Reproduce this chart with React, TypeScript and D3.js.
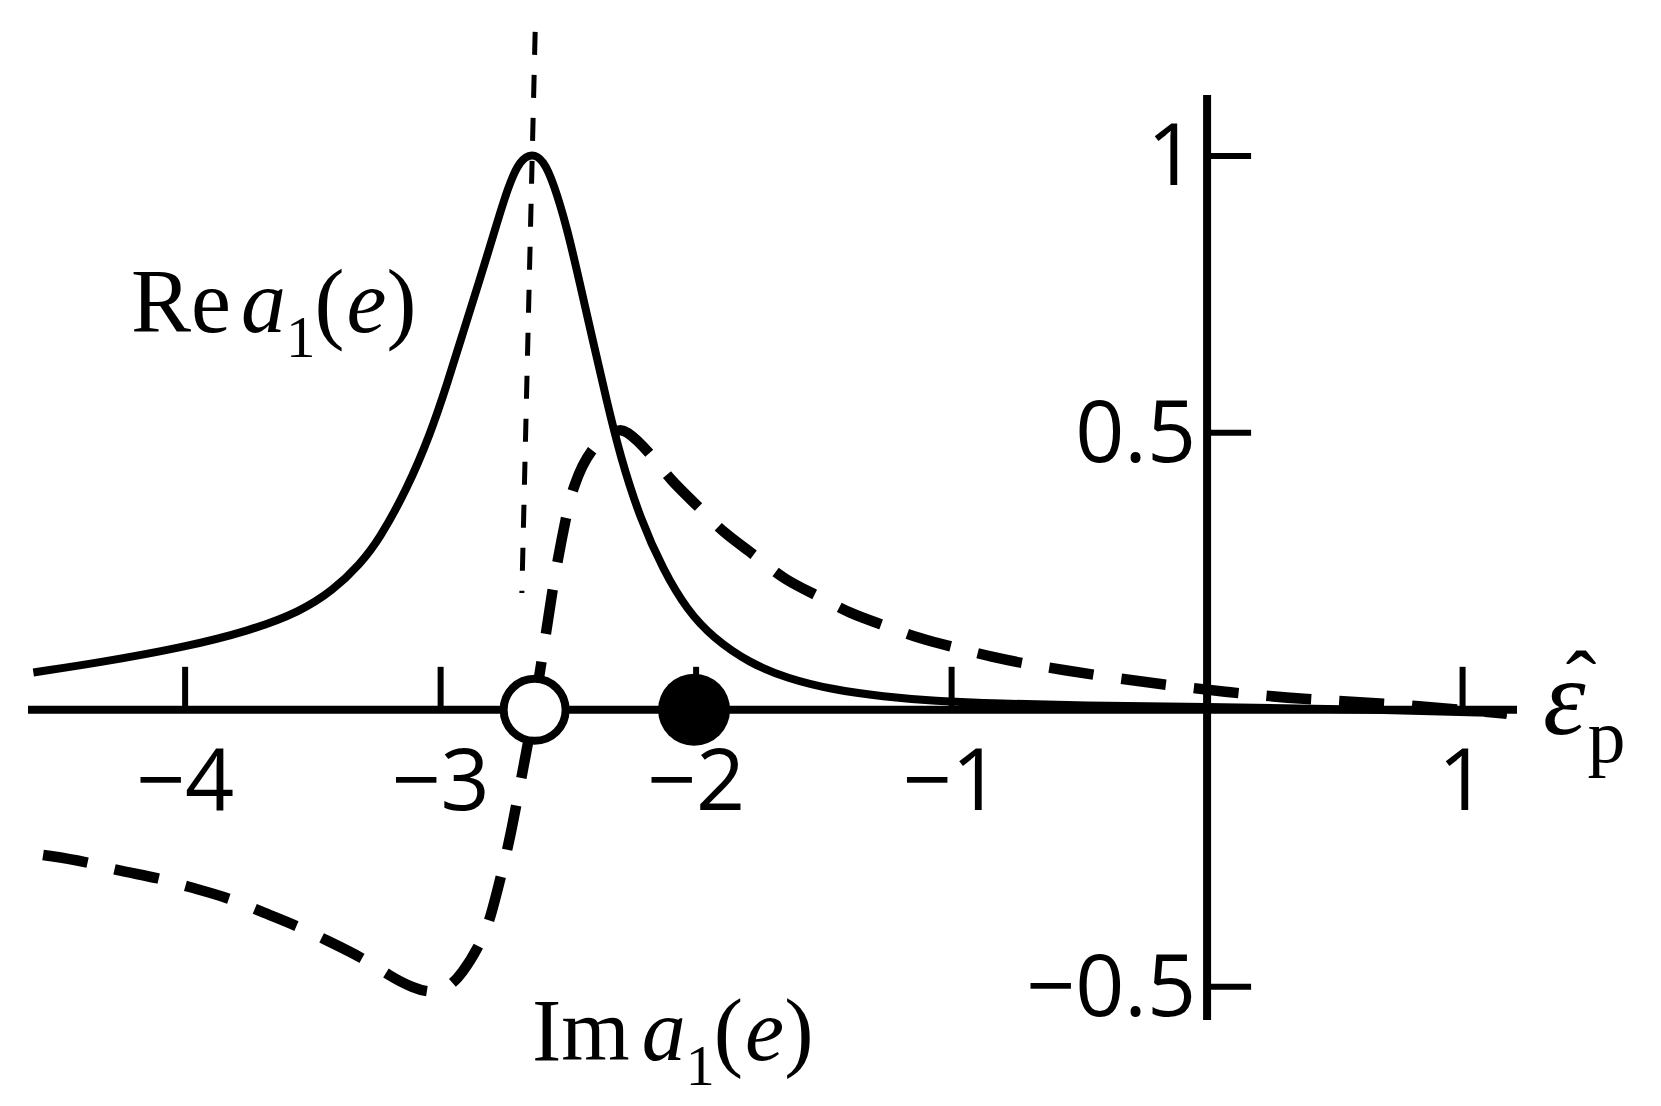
import React from 'react';
import * as d3 from 'd3';

const W = 1661;
const H = 1106;

// Re a1(e): solid curve
const reX = [-4.594, -4.333, -4.007, -3.746, -3.55, -3.42, -3.315, -3.24, -3.132, -3.041, -2.976, -2.911, -2.845, -2.793, -2.734, -2.689, -2.644, -2.598, -2.558, -2.506, -2.454, -2.402, -2.35, -2.297, -2.219, -2.128, -2.036, -1.932, -1.789, -1.645, -1.463, -1.267, -1.071, -0.81, -0.5, 0, 0.5, 1.173];
const reY = [0.0675, 0.0855, 0.1127, 0.1429, 0.177, 0.216, 0.263, 0.308, 0.398, 0.497, 0.586, 0.683, 0.779, 0.858, 0.948, 0.992, 1.005, 0.993, 0.951, 0.872, 0.768, 0.662, 0.558, 0.458, 0.345, 0.252, 0.1805, 0.129, 0.084, 0.057, 0.036, 0.024, 0.016, 0.011, 0.008, 0.005, 0.002, -0.006];

// Im a1(e): dashed curve
const imX = [-4.556, -4.386, -4.279, -4.098, -3.993, -3.824, -3.706, -3.557, -3.452, -3.303, -3.198, -3.11, -3.03, -2.975, -2.921, -2.83, -2.795, -2.756, -2.728, -2.697, -2.673, -2.658, -2.635, -2.587, -2.564, -2.542, -2.51, -2.483, -2.415, -2.317, -2.278, -2.18, -2.102, -1.984, -1.893, -1.762, -1.658, -1.515, -1.404, -1.247, -1.13, -0.973, -0.849, -0.687, -0.562, -0.399, -0.197, 0.093, 0.377, 0.667, 1.173];
const imY = [-0.262, -0.274, -0.289, -0.304, -0.319, -0.34, -0.364, -0.391, -0.415, -0.448, -0.481, -0.502, -0.512, -0.502, -0.481, -0.412, -0.358, -0.286, -0.23, -0.155, -0.096, -0.06, 0.0, 0.139, 0.211, 0.27, 0.346, 0.402, 0.473, 0.505, 0.508, 0.464, 0.415, 0.364, 0.319, 0.277, 0.235, 0.2045, 0.1745, 0.15, 0.129, 0.111, 0.096, 0.081, 0.072, 0.06, 0.047, 0.031, 0.019, 0.013, -0.007];

// thin dashed guide line
const guideX = [-2.63, -2.682];
const guideY = [1.224, 0.211];

const xTicks = [-4, -3, -2, -1, 1];
const xTickLabels = ['\u22124', '\u22123', '\u22122', '\u22121', '1'];
const yTicks = [1, 0.5, -0.5];
const yTickLabels = ['1', '0.5', '\u22120.5'];

const openPointX = [-2.632];
const filledPointX = [-2.008];

const xDomain = [-4.615, 1.213];
const yDomain = [-0.56, 1.11];

export default function App() {
  const x = d3.scaleLinear().domain(xDomain).range([28, 1517]);
  const y = d3.scaleLinear().domain(yDomain).range([1020, 95]);

  const line = d3
    .line<[number, number]>()
    .x((d) => x(d[0]))
    .y((d) => y(d[1]))
    .curve(d3.curveBasis);
  const straight = d3
    .line<[number, number]>()
    .x((d) => x(d[0]))
    .y((d) => y(d[1]));

  const reData = reX.map((v, i) => [v, reY[i]] as [number, number]);
  const imData = imX.map((v, i) => [v, imY[i]] as [number, number]);
  const guideData = guideX.map((v, i) => [v, guideY[i]] as [number, number]);

  const x0 = x(0);
  const y0 = y(0);
  const tickFont = "'Open Sans', 'Noto Sans', sans-serif";
  const serif = "'Liberation Serif', 'Times New Roman', serif";

  return (
    <svg
      width={W}
      height={H}
      viewBox={`0 0 ${W} ${H}`}
      style={{ position: 'absolute', left: 0, top: 0, background: '#fff' }}
    >
      <rect x={0} y={0} width={W} height={H} fill="#fff" />
      {/* axes */}
      <line x1={x(xDomain[0])} x2={x(xDomain[1])} y1={y0} y2={y0} stroke="#000" strokeWidth={8} />
      <line x1={x0} x2={x0} y1={y(yDomain[1])} y2={y(yDomain[0])} stroke="#000" strokeWidth={8} />
      {xTicks.map((t) => (
        <line key={'xt' + t} x1={x(t)} x2={x(t)} y1={y0} y2={y0 - 43} stroke="#000" strokeWidth={6} />
      ))}
      {yTicks.map((t) => (
        <line key={'yt' + t} x1={x0} x2={x0 + 44} y1={y(t)} y2={y(t)} stroke="#000" strokeWidth={6} />
      ))}
      {xTicks.map((t, i) => (
        <text key={'xl' + t} x={x(t)} y={y0 + 100} textAnchor="middle" fontFamily={tickFont} fontSize={86} fill="#000">
          {xTickLabels[i]}
        </text>
      ))}
      {yTicks.map((t, i) => (
        <text key={'yl' + t} x={x0 - 11} y={y(t) + 29} textAnchor="end" fontFamily={tickFont} fontSize={86} fill="#000">
          {yTickLabels[i]}
        </text>
      ))}

      {/* curves */}
      <path d={straight(guideData) || ''} fill="none" stroke="#000" strokeWidth={5} strokeDasharray="23 20" />
      <path d={line(reData) || ''} fill="none" stroke="#000" strokeWidth={8} />
      <path d={line(imData) || ''} fill="none" stroke="#000" strokeWidth={10.5} strokeDasharray="45 28" />

      {/* points */}
      {openPointX.map((p) => (
        <circle key={'o' + p} cx={x(p)} cy={y0} r={31} fill="#fff" stroke="#000" strokeWidth={8} />
      ))}
      {filledPointX.map((p) => (
        <circle key={'f' + p} cx={x(p)} cy={y0} r={36} fill="#000" />
      ))}

      {/* labels */}
      <text x={131} y={332} fontFamily={serif} fontSize={90} fill="#000">
        <tspan>Re</tspan>
        <tspan dx={10} fontStyle="italic">a</tspan>
        <tspan dy={25} fontSize={59}>1</tspan>
        <tspan dx={-1} dy={-25}>(</tspan>
        <tspan dx={2} fontStyle="italic">e</tspan>
        <tspan dx={0}>)</tspan>
      </text>
      <text x={532} y={1060} fontFamily={serif} fontSize={88} fill="#000">
        <tspan>Im</tspan>
        <tspan dx={12} fontStyle="italic">a</tspan>
        <tspan dy={25} fontSize={58}>1</tspan>
        <tspan dx={-1} dy={-25}>(</tspan>
        <tspan dx={2} fontStyle="italic">e</tspan>
        <tspan dx={0}>)</tspan>
      </text>
      <text x={1543} y={734} fontFamily={serif} fontSize={108} fill="#000">
        <tspan fontStyle="italic">{'\u03B5'}</tspan>
        <tspan dx={2} dy={28} fontSize={76}>p</tspan>
      </text>
      <text x={1581} y={714} fontFamily={serif} fontSize={92} textAnchor="middle" fill="#000">
        {'\u02C6'}
      </text>
    </svg>
  );
}
